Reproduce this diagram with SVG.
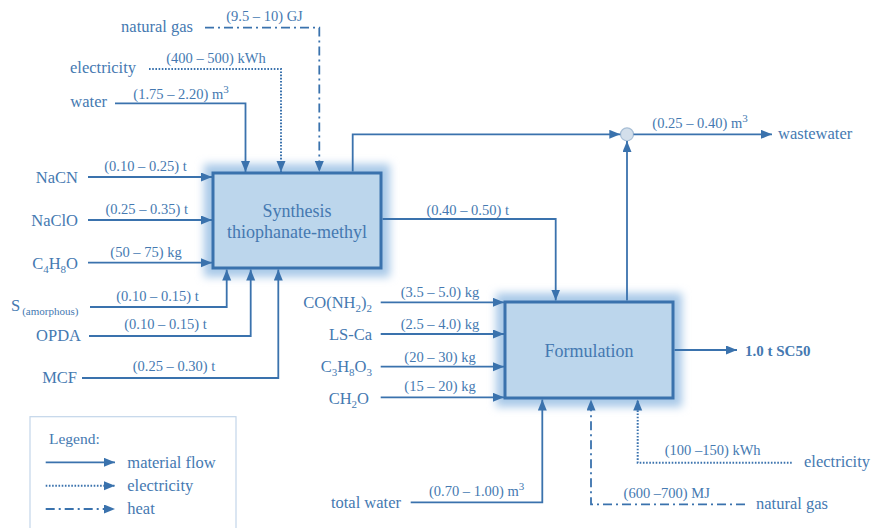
<svg xmlns="http://www.w3.org/2000/svg" width="873" height="528" viewBox="0 0 873 528" font-family="'Liberation Serif', 'DejaVu Serif', serif">
<style>
text{font-family:'Liberation Serif','DejaVu Serif',serif;fill:#4579b1}
.lbl{font-size:16.5px}
.val{font-size:14.5px;text-anchor:middle}
.end{text-anchor:end}
.title{font-size:18px;text-anchor:middle}
.sub{font-size:11px}
.flow{fill:none;stroke:#3a72ad;stroke-width:1.8}
.elec{stroke-dasharray:1.6 1.6;stroke-width:2}
.heat{stroke-dasharray:9 4 2 4}
.box{fill:#bcd6ec;stroke:#3a72ad;stroke-width:3}
.glow{fill:#a9c9e8}
</style>
<defs>
<marker id="arr" markerUnits="userSpaceOnUse" markerWidth="12" markerHeight="10" refX="11" refY="4.5" orient="auto">
<path d="M0,0 L11,4.5 L0,9 z" fill="#3a72ad"/>
</marker>
<filter id="blur" x="-20%" y="-20%" width="140%" height="140%">
<feGaussianBlur stdDeviation="4"/>
</filter>
</defs>

<g id="synthesis">
<rect class="glow" x="204" y="164" width="186" height="113" filter="url(#blur)"/>
<rect class="box" x="213" y="173" width="168" height="95"/>
<text class="title" x="297" y="217">Synthesis</text>
<text class="title" x="297" y="238">thiophanate-methyl</text>
</g>

<g id="formulation">
<rect class="glow" x="496" y="293" width="186" height="114" filter="url(#blur)"/>
<rect class="box" x="505" y="302" width="168" height="96"/>
<text class="title" x="589" y="357">Formulation</text>
</g>

<g id="mixer">
<circle cx="627" cy="134.3" r="6.5" fill="#d3dfeb" stroke="#a8bfd6" stroke-width="1.2"/>
</g>

<g id="connectors">
<path class="flow" d="M115,103.3 H245.5 V172" marker-end="url(#arr)"/>
<path class="flow elec" d="M149,69 H281 V172" marker-end="url(#arr)"/>
<path class="flow heat" d="M205,27.7 H319.3 V172" marker-end="url(#arr)"/>
<path class="flow" d="M88,177 H212" marker-end="url(#arr)"/>
<path class="flow" d="M88,220 H212" marker-end="url(#arr)"/>
<path class="flow" d="M88,262.7 H212" marker-end="url(#arr)"/>
<path class="flow" d="M90,307 H226.7 V269.5" marker-end="url(#arr)"/>
<path class="flow" d="M89,336 H250.7 V269.5" marker-end="url(#arr)"/>
<path class="flow" d="M82,378 H278.3 V269.5" marker-end="url(#arr)"/>
<path class="flow" d="M352.7,171.5 V134.3 H620.3" marker-end="url(#arr)"/>
<path class="flow" d="M382.5,219 H555.7 V300.5" marker-end="url(#arr)"/>
<path class="flow" d="M633.5,134.3 H772" marker-end="url(#arr)"/>
<path class="flow" d="M627,300.5 V141" marker-end="url(#arr)"/>
<path class="flow" d="M674.5,350 H737" marker-end="url(#arr)"/>
<path class="flow" d="M380.7,302.3 H504" marker-end="url(#arr)"/>
<path class="flow" d="M380.7,334 H504" marker-end="url(#arr)"/>
<path class="flow" d="M380.7,366.7 H504" marker-end="url(#arr)"/>
<path class="flow" d="M380.7,397.3 H504" marker-end="url(#arr)"/>
<path class="flow" d="M410.7,502.3 H542.3 V399.5" marker-end="url(#arr)"/>
<path class="flow heat" d="M745,504.3 H591 V399.5" marker-end="url(#arr)"/>
<path class="flow elec" d="M791.7,462.7 H637.7 V399.5" marker-end="url(#arr)"/>
</g>

<g id="labels">
<text class="lbl end" x="193" y="32">natural gas</text>
<text class="val" x="264.5" y="21">(9.5 – 10) GJ</text>
<text class="lbl end" x="136" y="73">electricity</text>
<text class="val" x="216" y="62.5">(400 – 500) kWh</text>
<text class="lbl end" x="107" y="107">water</text>
<text class="val" x="181" y="98.5">(1.75 – 2.20) m<tspan class="sub" dy="-6">3</tspan></text>

<text class="lbl end" x="78" y="183">NaCN</text>
<text class="val" x="145.5" y="171">(0.10 – 0.25) t</text>
<text class="lbl end" x="78" y="226">NaClO</text>
<text class="val" x="146.7" y="214">(0.25 – 0.35) t</text>
<text class="lbl end" x="78" y="269">C<tspan class="sub" dy="4">4</tspan><tspan dy="-4">H</tspan><tspan class="sub" dy="4">8</tspan><tspan dy="-4">O</tspan></text>
<text class="val" x="146" y="257">(50 – 75) kg</text>
<text class="lbl" x="11" y="311">S<tspan class="sub" dx="2" dy="4">(amorphous)</tspan></text>
<text class="val" x="157.5" y="301">(0.10 – 0.15) t</text>
<text class="lbl end" x="81" y="341">OPDA</text>
<text class="val" x="165.5" y="328.5">(0.10 – 0.15) t</text>
<text class="lbl end" x="77" y="383">MCF</text>
<text class="val" x="174" y="371">(0.25 – 0.30) t</text>

<text class="val" x="467.7" y="215">(0.40 – 0.50) t</text>
<text class="val" x="700" y="128">(0.25 – 0.40) m<tspan class="sub" dy="-6">3</tspan></text>
<text class="lbl" x="778" y="139">wastewater</text>

<text class="lbl end" x="372" y="308">CO(NH<tspan class="sub" dy="4">2</tspan><tspan dy="-4">)</tspan><tspan class="sub" dy="4">2</tspan></text>
<text class="val" x="440" y="297">(3.5 – 5.0) kg</text>
<text class="lbl end" x="372" y="340">LS-Ca</text>
<text class="val" x="440" y="329">(2.5 – 4.0) kg</text>
<text class="lbl end" x="372" y="372">C<tspan class="sub" dy="4">3</tspan><tspan dy="-4">H</tspan><tspan class="sub" dy="4">8</tspan><tspan dy="-4">O</tspan><tspan class="sub" dy="4">3</tspan></text>
<text class="val" x="440" y="362">(20 – 30) kg</text>
<text class="lbl end" x="369" y="403.5">CH<tspan class="sub" dy="4">2</tspan><tspan dy="-4">O</tspan></text>
<text class="val" x="440" y="391">(15 – 20) kg</text>

<text class="lbl" x="745" y="355.5" style="font-weight:bold;font-size:15px">1.0 t SC50</text>
<text class="lbl end" x="401" y="508">total water</text>
<text class="val" x="476.7" y="496">(0.70 – 1.00) m<tspan class="sub" dy="-6">3</tspan></text>
<text class="lbl" x="804" y="467">electricity</text>
<text class="val" x="712.7" y="455">(100 –150) kWh</text>
<text class="lbl" x="756" y="508.5">natural gas</text>
<text class="val" x="666.7" y="498">(600 –700) MJ</text>
</g>

<g id="legend">
<rect x="30" y="416.7" width="206" height="130" fill="none" stroke="#c3d6e9" stroke-width="1.2"/>
<text class="lbl" x="49" y="444" style="font-size:15.5px">Legend:</text>
<path class="flow" d="M45.7,462.3 H115" marker-end="url(#arr)"/>
<text class="lbl" x="127.3" y="467.5">material flow</text>
<path class="flow elec" d="M45.7,485.7 H115" marker-end="url(#arr)"/>
<text class="lbl" x="127.3" y="490.5">electricity</text>
<path class="flow heat" d="M45.7,509 H115" marker-end="url(#arr)"/>
<text class="lbl" x="127.3" y="514">heat</text>
</g>
</svg>
